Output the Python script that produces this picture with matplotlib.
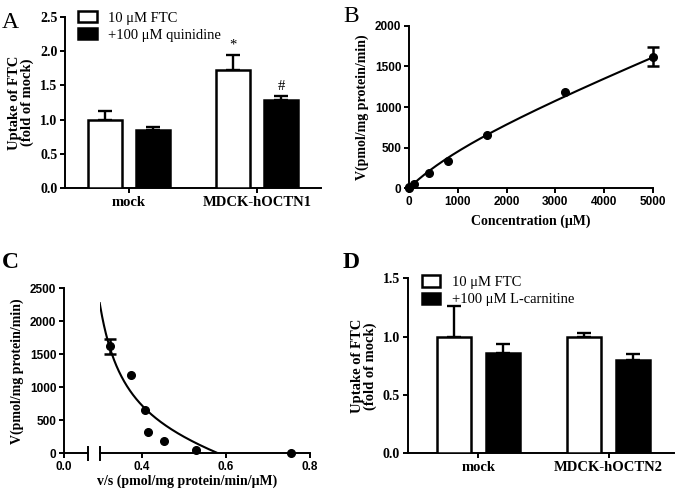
import numpy as np
import matplotlib
matplotlib.use("Agg")
import matplotlib.pyplot as plt
from matplotlib.patches import Patch

# ---------------- data ----------------
a_categories = ["mock", "MDCK-hOCTN1"]
a_ftc = [1.0, 1.73]
a_ftc_err = [0.12, 0.22]
a_quin = [0.85, 1.29]
a_quin_err = [0.04, 0.06]
a_marks = ["*", "#"]

b_conc = [10, 100, 400, 800, 1600, 3200, 5000]
b_v = [7.5, 52, 180, 330, 650, 1190, 1620]
b_err = [0, 0, 0, 0, 0, 0, 115]
# fitted kinetic parameters (saturable + nonsaturable)
fit_vmax = 546.0
fit_km = 1600.0
fit_kd = 0.24

c_vs = [0.755, 0.528, 0.452, 0.414, 0.406, 0.373, 0.324]
c_v = [7.5, 52, 180, 330, 650, 1190, 1620]
c_err = [0, 0, 0, 0, 0, 0, 115]

d_categories = ["mock", "MDCK-hOCTN2"]
d_ftc = [1.0, 1.0]
d_ftc_err = [0.26, 0.035]
d_carn = [0.86, 0.80]
d_carn_err = [0.075, 0.05]

# --------------- style ----------------
SERIF = ["Liberation Serif", "DejaVu Serif"]
SANS = ["Liberation Sans", "DejaVu Sans"]
plt.rcParams["font.family"] = SERIF
plt.rcParams["axes.linewidth"] = 1.4
plt.rcParams["xtick.major.width"] = 1.4
plt.rcParams["ytick.major.width"] = 1.4
plt.rcParams["xtick.major.size"] = 3.5
plt.rcParams["ytick.major.size"] = 3.5

W, H = 675, 490
fig = plt.figure(figsize=(W / 100, H / 100), dpi=100)


def rect(l, r, t, b):
    return [l / W, (H - b) / H, (r - l) / W, (b - t) / H]


def style(ax):
    for s in ["top", "right"]:
        ax.spines[s].set_visible(False)
    ax.tick_params(colors="black", pad=2)


def points_with_err(ax, xs, ys, errs):
    ax.plot(xs, ys, "o", color="black", ms=5.5, zorder=3, clip_on=False)
    ex = [x for x, e in zip(xs, errs) if e > 0]
    ey = [y for y, e in zip(ys, errs) if e > 0]
    ee = [e for e in errs if e > 0]
    ax.errorbar(ex, ey, yerr=ee, fmt="none", ecolor="black", elinewidth=1.8,
                capsize=4, capthick=1.8, zorder=3, clip_on=False)


def bar_panel(ax, cats, v1, e1, v2, e2, ymax, yticks, labels):
    x = np.arange(len(cats))
    off, w = 0.1875, 0.258
    ax.bar(x - off, v1, w, color="white", edgecolor="black", linewidth=1.8, zorder=3)
    ax.bar(x + off, v2, w, color="black", edgecolor="black", linewidth=1.8, zorder=3)
    ax.errorbar(x - off, v1, yerr=[np.zeros(len(e1)), e1], fmt="none", ecolor="black",
                elinewidth=1.7, capsize=5, capthick=1.7, zorder=2)
    ax.errorbar(x + off, v2, yerr=[np.zeros(len(e2)), e2], fmt="none", ecolor="black",
                elinewidth=1.7, capsize=5, capthick=1.7, zorder=2)
    ax.set_ylim(0, ymax)
    ax.set_yticks(yticks)
    ax.set_yticklabels([f"{t:.1f}" for t in yticks], fontweight="bold", fontsize=10)
    ax.set_xticks(x)
    ax.set_xticklabels(cats, fontweight="bold", fontsize=10.5)
    ax.tick_params(axis="x", pad=6)
    style(ax)
    ax.set_ylabel("Uptake of FTC\n(fold of mock)", fontweight="bold", fontsize=10.5,
                  linespacing=1.0, labelpad=4)
    handles = [Patch(facecolor="white", edgecolor="black", linewidth=1.8, label=labels[0]),
               Patch(facecolor="black", edgecolor="black", linewidth=1.8, label=labels[1])]
    ax.legend(handles=handles, loc="upper left", bbox_to_anchor=(0.027, 1.07),
              frameon=False, fontsize=10.5, handlelength=1.3, handleheight=0.8,
              handletextpad=0.8, labelspacing=0.25, borderaxespad=0)
    return x, off


# ---------------- A ----------------
axA = fig.add_axes(rect(65, 321, 17, 188))
xA, offA = bar_panel(axA, a_categories, a_ftc, a_ftc_err, a_quin, a_quin_err, 2.5,
                     [0.0, 0.5, 1.0, 1.5, 2.0, 2.5], ["10 μM FTC", "+100 μM quinidine"])
axA.set_xlim(-0.5, 1.5)
axA.text(xA[1] - offA, a_ftc[1] + a_ftc_err[1] + 0.05, a_marks[0], ha="center", va="bottom", fontsize=10.5)
axA.text(xA[1] + offA, a_quin[1] + a_quin_err[1] + 0.04, a_marks[1], ha="center", va="bottom", fontsize=10.5)
fig.text(2 / W, 1 - 22 / H, "A", fontsize=17, ha="left", va="center")

# ---------------- B ----------------
axB = fig.add_axes(rect(409, 653, 26, 188))
s = np.linspace(0, max(b_conc), 300)
vfit = fit_vmax * s / (fit_km + s) + fit_kd * s
axB.plot(s, vfit, color="black", lw=1.5, zorder=2)
points_with_err(axB, [0] + b_conc, [0] + b_v, [0] + b_err)
axB.set_xlim(0, 5000)
axB.set_ylim(0, 2000)
axB.set_xticks([0, 1000, 2000, 3000, 4000, 5000])
axB.set_yticks([0, 500, 1000, 1500, 2000])
for lab in axB.get_xticklabels() + axB.get_yticklabels():
    lab.set_fontfamily(SANS)
    lab.set_fontweight("bold")
    lab.set_fontsize(8.5)
style(axB)
axB.set_xlabel("Concentration (μM)", fontweight="bold", fontsize=10, labelpad=5)
axB.set_ylabel("V(pmol/mg protein/min)", fontweight="bold", fontsize=10, labelpad=4)
fig.text(343 / W, 1 - 17 / H, "B", fontsize=17, ha="left", va="center")

# ---------------- C ----------------
c_top, c_bot = 288.3, 453.3
axC1 = fig.add_axes(rect(64, 88, c_top, c_bot))
axC2 = fig.add_axes(rect(100, 310, c_top, c_bot))
for ax in (axC1, axC2):
    ax.set_ylim(0, 2500)
    for sp in ["top", "right"]:
        ax.spines[sp].set_visible(False)
axC1.set_xlim(0, 0.078)
axC2.set_xlim(0.3, 0.8)
axC2.spines["left"].set_visible(False)
axC2.tick_params(axis="y", left=False, labelleft=False)
axC1.set_yticks([0, 500, 1000, 1500, 2000, 2500])
axC1.set_xticks([0.0])
axC1.set_xticklabels(["0.0"])
axC2.set_xticks([0.4, 0.6, 0.8])
axC2.set_xticklabels(["0.4", "0.6", "0.8"])
for ax in (axC1, axC2):
    for lab in ax.get_xticklabels() + ax.get_yticklabels():
        lab.set_fontfamily(SANS)
        lab.set_fontweight("bold")
        lab.set_fontsize(8.5)
    ax.tick_params(pad=2)
# break end caps
for ax, xpos in ((axC1, 1.0), (axC2, 0.0)):
    ax.plot([xpos, xpos], [-0.04, 0.04], transform=ax.transAxes, color="black",
            lw=1.4, clip_on=False)
sc = np.linspace(0.5, 7600, 800)
vc = fit_vmax * sc / (fit_km + sc) + fit_kd * sc
axC2.plot(fit_vmax / (fit_km + sc) + fit_kd, vc, color="black", lw=1.5, zorder=2)
points_with_err(axC2, c_vs, c_v, c_err)
axC1.set_ylabel("V(pmol/mg protein/min)", fontweight="bold", fontsize=10, labelpad=4)
fig.text(187 / W, 1 - 481 / H, "v/s (pmol/mg protein/min/μM)", fontweight="bold",
         fontsize=10, ha="center", va="center")
fig.text(2 / W, 1 - 262 / H, "C", fontsize=17, fontweight="bold", ha="left", va="center")

# ---------------- D ----------------
axD = fig.add_axes(rect(407.7, 674, 278.3, 453.3))
xD, offD = bar_panel(axD, d_categories, d_ftc, d_ftc_err, d_carn, d_carn_err, 1.5,
                     [0.0, 0.5, 1.0, 1.5], ["10 μM FTC", "+100 μM L-carnitine"])
axD.set_xlim(-0.54, 1.5)
axD.get_legend().set_bbox_to_anchor((0.03, 1.05))
fig.text(343 / W, 1 - 262 / H, "D", fontsize=17, fontweight="bold", ha="left", va="center")

fig.savefig("out.png", dpi=100)
